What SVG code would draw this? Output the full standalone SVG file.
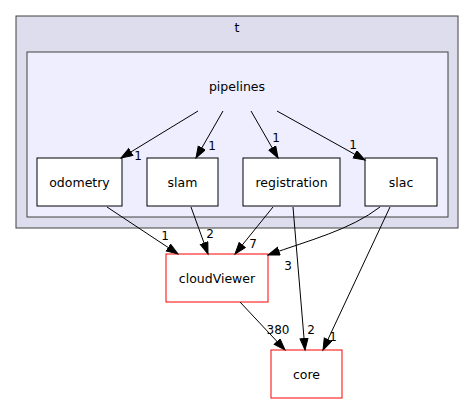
<svg xmlns="http://www.w3.org/2000/svg" width="475" height="404" viewBox="0 0 475 404">
<style>
text{font-family:"DejaVu Sans",sans-serif;font-size:12.5px;fill:#000}
.lbl{text-anchor:middle}
.el{text-anchor:middle;font-size:12px}
.node{fill:#fff;stroke:#000;stroke-width:1}
.red{fill:#fff;stroke:#ff0000;stroke-width:1}
.edge{fill:none;stroke:#000;stroke-width:1}
</style>
<defs>
<marker id="ah" markerUnits="userSpaceOnUse" markerWidth="14" markerHeight="11" refX="12" refY="4.5" orient="auto">
<polygon points="0.5,0.5 12,4.5 0.5,8.5" fill="#000" stroke="#000"/>
</marker>
</defs>
<rect width="475" height="404" fill="#fff"/>
<g id="cluster_t">
<rect x="16" y="16" width="442" height="212" fill="#ddddee" stroke="#404040"/>
<text x="237" y="32" class="lbl">t</text>
</g>
<g id="cluster_pipelines">
<rect x="27" y="52" width="421" height="165" fill="#eeeeff" stroke="#404040"/>
<text x="237" y="91" class="lbl">pipelines</text>
</g>
<g id="odometry"><rect class="node" x="37" y="158" width="85" height="48"/><text x="79.5" y="187" class="lbl">odometry</text></g>
<g id="slam"><rect class="node" x="147" y="158" width="71" height="48"/><text x="182.5" y="187" class="lbl">slam</text></g>
<g id="registration"><rect class="node" x="243" y="158" width="97" height="48"/><text x="291.5" y="187" class="lbl">registration</text></g>
<g id="slac"><rect class="node" x="365" y="158" width="72" height="48"/><text x="401" y="187" class="lbl">slac</text></g>
<g id="cloudViewer"><rect class="red" x="166" y="254" width="102" height="48"/><text x="217" y="283" class="lbl">cloudViewer</text></g>
<g id="core"><rect class="red" x="271" y="350" width="71" height="48"/><text x="306.5" y="379" class="lbl">core</text></g>
<g id="edges">
<path class="edge" d="M198,111 L121,158" marker-end="url(#ah)"/>
<text x="138" y="160" class="el">1</text>
<path class="edge" d="M223,111 L196,158" marker-end="url(#ah)"/>
<text x="212" y="150" class="el">1</text>
<path class="edge" d="M251,111 L278,158" marker-end="url(#ah)"/>
<text x="276" y="142" class="el">1</text>
<path class="edge" d="M277,111 L365,160" marker-end="url(#ah)"/>
<text x="353" y="149" class="el">1</text>
<path class="edge" d="M107,207 L178,254" marker-end="url(#ah)"/>
<text x="165" y="240" class="el">1</text>
<path class="edge" d="M191,207 L208,254" marker-end="url(#ah)"/>
<text x="210" y="238" class="el">2</text>
<path class="edge" d="M273,207 L235,254" marker-end="url(#ah)"/>
<text x="253" y="248" class="el">7</text>
<path class="edge" d="M380,207 C350,230 310,240 268,255" marker-end="url(#ah)"/>
<text x="288" y="270" class="el">3</text>
<path class="edge" d="M293,207 L305,350" marker-end="url(#ah)"/>
<text x="311" y="334" class="el">2</text>
<path class="edge" d="M390,207 L323,350" marker-end="url(#ah)"/>
<text x="333" y="341" class="el">1</text>
<path class="edge" d="M240,302 L285,350" marker-end="url(#ah)"/>
<text x="278" y="334" class="el">380</text>
</g>
</svg>
